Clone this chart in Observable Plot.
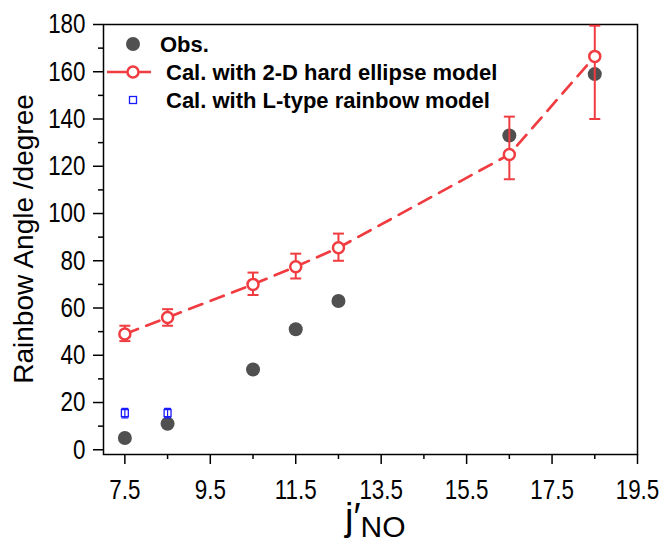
<!DOCTYPE html>
<html>
<head>
<meta charset="utf-8">
<script src="https://cdn.jsdelivr.net/npm/d3@7"></script>
<script src="https://cdn.jsdelivr.net/npm/@observablehq/plot@0.6"></script>
<style>
  html, body { margin: 0; padding: 0; background: white; }
  #chart { width: 662px; height: 542px; }
</style>
</head>
<body>
<div id="chart"></div>
<script>
// ---- data ----
const jValues = [7.5, 8.5, 10.5, 11.5, 12.5, 16.5, 18.5];
const obsAngle = [5, 11, 34, 51, 63, 133, 159];
const ellipseAngle = [49, 56, 70, 77.5, 85.5, 125, 166.5];
const ellipseLow = [46, 52.5, 65.5, 72.5, 80, 114.5, 140];
const ellipseHigh = [52.5, 59.5, 75, 83, 91.5, 141, 179.5];
const lTypeJ = [7.5, 8.5];
const lTypeAngle = [15.5, 15.5];
const lTypeLow = [13.5, 13.5];
const lTypeHigh = [17.5, 17.5];
const xTicks = [7.5, 9.5, 11.5, 13.5, 15.5, 17.5, 19.5];
const xMinorTicks = [8.5, 10.5, 12.5, 14.5, 16.5, 18.5];
const yTicks = [0, 20, 40, 60, 80, 100, 120, 140, 160, 180];
const yMinorTicks = [10, 30, 50, 70, 90, 110, 130, 150, 170];
const legendLabels = ["Obs.", "Cal. with 2-D hard ellipse model", "Cal. with L-type rainbow model"];

const RED = "#f03c40";
const BLUE = "#1a1aff";
const GRAY = "#505050";

const obsData = jValues.map((x, i) => ({x, y: obsAngle[i]}));
const ellData = jValues.map((x, i) => ({x, y: ellipseAngle[i], lo: ellipseLow[i], hi: ellipseHigh[i]}));
const lData = lTypeJ.map((x, i) => ({x, y: lTypeAngle[i], lo: lTypeLow[i], hi: lTypeHigh[i]}));

const cap = {
  draw(ctx, size) {
    const r = Math.sqrt(size / Math.PI);
    ctx.moveTo(-r, 0);
    ctx.lineTo(r, 0);
  }
};

const plot = Plot.plot({
  width: 662,
  height: 542,
  marginLeft: 103,
  marginRight: 25,
  marginTop: 24,
  marginBottom: 88,
  style: {fontFamily: "'Liberation Sans', Arial, sans-serif", background: "white", color: "black"},
  x: {domain: [7, 19.5]},
  y: {domain: [-2, 180]},
  marks: [
    Plot.axisX({ticks: xTicks, tickSize: 10, tickPadding: 15, fontSize: 28, label: null, strokeWidth: 1.5, tickFormat: d => d.toFixed(1)}),
    Plot.axisX({ticks: xMinorTicks, tickSize: 5, label: null, strokeWidth: 1.5, tickFormat: () => ""}),
    Plot.axisY({ticks: yTicks, tickSize: 10, tickPadding: 8, fontSize: 28, label: null, strokeWidth: 1.5}),
    Plot.axisY({ticks: yMinorTicks, tickSize: 5, label: null, strokeWidth: 1.5, tickFormat: () => ""}),
    Plot.frame({stroke: "black", strokeWidth: 1.5}),
    Plot.dot(obsData, {x: "x", y: "y", r: 7, fill: GRAY}),
    Plot.line(ellData, {x: "x", y: "y", stroke: RED, strokeWidth: 2.7, strokeDasharray: "14,9"}),
    Plot.ruleX(ellData, {x: "x", y1: "lo", y2: "hi", stroke: RED, strokeWidth: 2}),
    Plot.dot(ellData, {x: "x", y: "lo", symbol: cap, r: 5.5, stroke: RED, strokeWidth: 2, fill: "none"}),
    Plot.dot(ellData, {x: "x", y: "hi", symbol: cap, r: 5.5, stroke: RED, strokeWidth: 2, fill: "none"}),
    Plot.dot(ellData, {x: "x", y: "y", r: 5.5, stroke: RED, strokeWidth: 2.5, fill: "white"}),
    Plot.dot(lData, {x: "x", y: "y", symbol: "square", r: 3.9, stroke: BLUE, strokeWidth: 1.3, fill: "white"}),
    Plot.ruleX(lData, {x: "x", y1: "lo", y2: "hi", stroke: BLUE, strokeWidth: 1.2}),
    Plot.dot(lData, {x: "x", y: "lo", symbol: cap, r: 3.5, stroke: BLUE, strokeWidth: 1.3, fill: "none"}),
    Plot.dot(lData, {x: "x", y: "hi", symbol: cap, r: 3.5, stroke: BLUE, strokeWidth: 1.3, fill: "none"})
  ]
});

document.getElementById("chart").appendChild(plot);

const svg = d3.select(plot);
// condensed tick labels
svg.selectAll('g[aria-label="x-axis tick label"] text, g[aria-label="y-axis tick label"] text')
  .attr("transform", function() { return (this.getAttribute("transform") || "") + " scale(0.8,1)"; });

// axis titles
svg.append("text")
  .attr("transform", "translate(33,239) rotate(-90)")
  .attr("text-anchor", "middle")
  .attr("font-size", 28)
  .attr("fill", "black")
  .text("Rainbow Angle /degree");

const xt = svg.append("text")
  .attr("x", 345).attr("y", 530)
  .attr("text-anchor", "start")
  .attr("fill", "black");
xt.append("tspan").attr("font-size", 38).text("j\u2032");
xt.append("tspan").attr("font-size", 30).attr("dy", 7).text("NO");

// legend
const lg = svg.append("g").attr("font-weight", "bold").attr("font-size", 22).attr("fill", "black").attr("text-anchor", "start");
lg.append("circle").attr("cx", 133).attr("cy", 44).attr("r", 7).attr("fill", GRAY);
lg.append("text").attr("x", 160).attr("y", 44).attr("dy", "0.35em").text(legendLabels[0]);
lg.append("line").attr("x1", 107).attr("x2", 151).attr("y1", 72).attr("y2", 72).attr("stroke", RED).attr("stroke-width", 2.7);
lg.append("circle").attr("cx", 133).attr("cy", 72).attr("r", 5.5).attr("fill", "white").attr("stroke", RED).attr("stroke-width", 2.5);
lg.append("text").attr("x", 166).attr("y", 72).attr("dy", "0.35em").text(legendLabels[1]);
lg.append("rect").attr("x", 129.5).attr("y", 96.5).attr("width", 7).attr("height", 7).attr("fill", "white").attr("stroke", BLUE).attr("stroke-width", 1.3);
lg.append("text").attr("x", 166).attr("y", 100).attr("dy", "0.35em").text(legendLabels[2]);
</script>
</body>
</html>
